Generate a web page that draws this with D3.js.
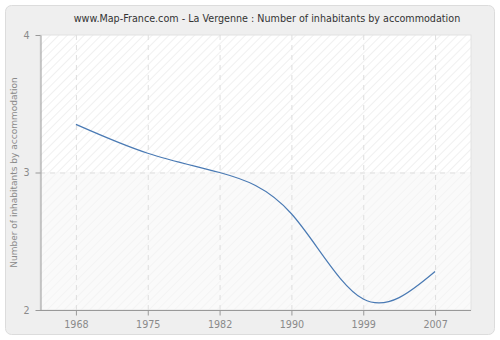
<!DOCTYPE html>
<html><head><meta charset="utf-8">
<script src="https://cdn.jsdelivr.net/npm/d3@7"></script>
<style>body{margin:0;background:#fff}svg{display:block}text{font-family:"DejaVu Sans",Verdana,sans-serif}</style>
</head><body>
<svg id="c" width="500" height="340"></svg>
<script>
const years = ["1968","1975","1982","1990","1999","2007"];
const values = [3.35, 3.14, 3.0, 2.70, 2.08, 2.28];
const yTicks = [2, 3, 4];
const title = "www.Map-France.com - La Vergenne : Number of inhabitants by accommodation";
const yLabel = "Number of inhabitants by accommodation";

const svg = d3.select("#c");
const L = 40, R = 471, T = 35, B = 310;

const defs = svg.append("defs");
const pat = defs.append("pattern").attr("id","hatch").attr("patternUnits","userSpaceOnUse")
  .attr("width",6).attr("height",6).attr("patternTransform","rotate(45)");
pat.append("rect").attr("width",6).attr("height",6).attr("fill","#fff");
pat.append("line").attr("x1",0).attr("y1",0).attr("x2",0).attr("y2",6).attr("stroke","#e6e6e6").attr("stroke-width",1.2);
const pat2 = defs.append("pattern").attr("id","hatch2").attr("patternUnits","userSpaceOnUse")
  .attr("width",6).attr("height",6).attr("patternTransform","rotate(45)");
pat2.append("rect").attr("width",6).attr("height",6).attr("fill","#fafafa");
pat2.append("line").attr("x1",0).attr("y1",0).attr("x2",0).attr("y2",6).attr("stroke","#f0f0f0").attr("stroke-width",1.2);

svg.append("rect").attr("x",5.5).attr("y",5.5).attr("width",489).attr("height",329).attr("rx",6)
  .attr("fill","#efefef").attr("stroke","#dcdcdc");

const x = d3.scalePoint().domain(years).range([L, R]).padding(0.5);
const y = d3.scaleLinear().domain([2, 4]).range([B, T]);

svg.append("rect").attr("x",L).attr("y",y(4)).attr("width",R-L).attr("height",y(3)-y(4)).attr("fill","url(#hatch)");
svg.append("rect").attr("x",L).attr("y",y(3)).attr("width",R-L).attr("height",y(2)-y(3)).attr("fill","url(#hatch2)");
svg.append("rect").attr("x",L).attr("y",T).attr("width",R-L).attr("height",B-T).attr("fill","none").attr("stroke","#e2e2e2");

// grid
svg.append("g").selectAll("line").data(years).join("line")
  .attr("x1",d=>x(d)+0.5).attr("x2",d=>x(d)+0.5).attr("y1",T).attr("y2",B)
  .attr("stroke","#dedede").attr("stroke-dasharray","5,5");
svg.append("g").selectAll("line").data(yTicks.filter(t=>t>2&&t<4)).join("line")
  .attr("x1",L).attr("x2",R).attr("y1",d=>y(d)+0.5).attr("y2",d=>y(d)+0.5)
  .attr("stroke","#dedede").attr("stroke-dasharray","5,5");

// axes
const xa = svg.append("g").attr("transform",`translate(0,${B+0.5})`)
  .call(d3.axisBottom(x).tickSize(5).tickSizeOuter(0).tickPadding(6));
const ya = svg.append("g").attr("transform",`translate(${L+0.5},0)`)
  .call(d3.axisLeft(y).tickValues(yTicks).tickFormat(d3.format("d")).tickSize(5).tickSizeOuter(0).tickPadding(6));
[xa, ya].forEach(g=>{
  g.select(".domain").attr("stroke","#999");
  g.selectAll(".tick line").attr("stroke","#999");
  g.selectAll(".tick text").attr("fill","#8a8a8a").attr("font-size",9.6).attr("font-family","DejaVu Sans, Verdana, sans-serif");
});
xa.select(".domain").attr("d",`M${L},0H${R}`);

// line
const line = d3.line().x((d,i)=>x(years[i])).y(d=>y(d)).curve(d3.curveNatural);
svg.append("path").datum(values).attr("d",line).attr("fill","none").attr("stroke","#4a7ab4").attr("stroke-width",1.2);

svg.append("text").attr("x",267).attr("y",22).attr("text-anchor","middle").attr("font-size",9.6).attr("fill","#333").text(title);
svg.append("text").attr("transform",`translate(17,${(T+B)/2}) rotate(-90)`).attr("text-anchor","middle")
  .attr("font-size",9).attr("fill","#8a8a8a").text(yLabel);
</script>
</body></html>
